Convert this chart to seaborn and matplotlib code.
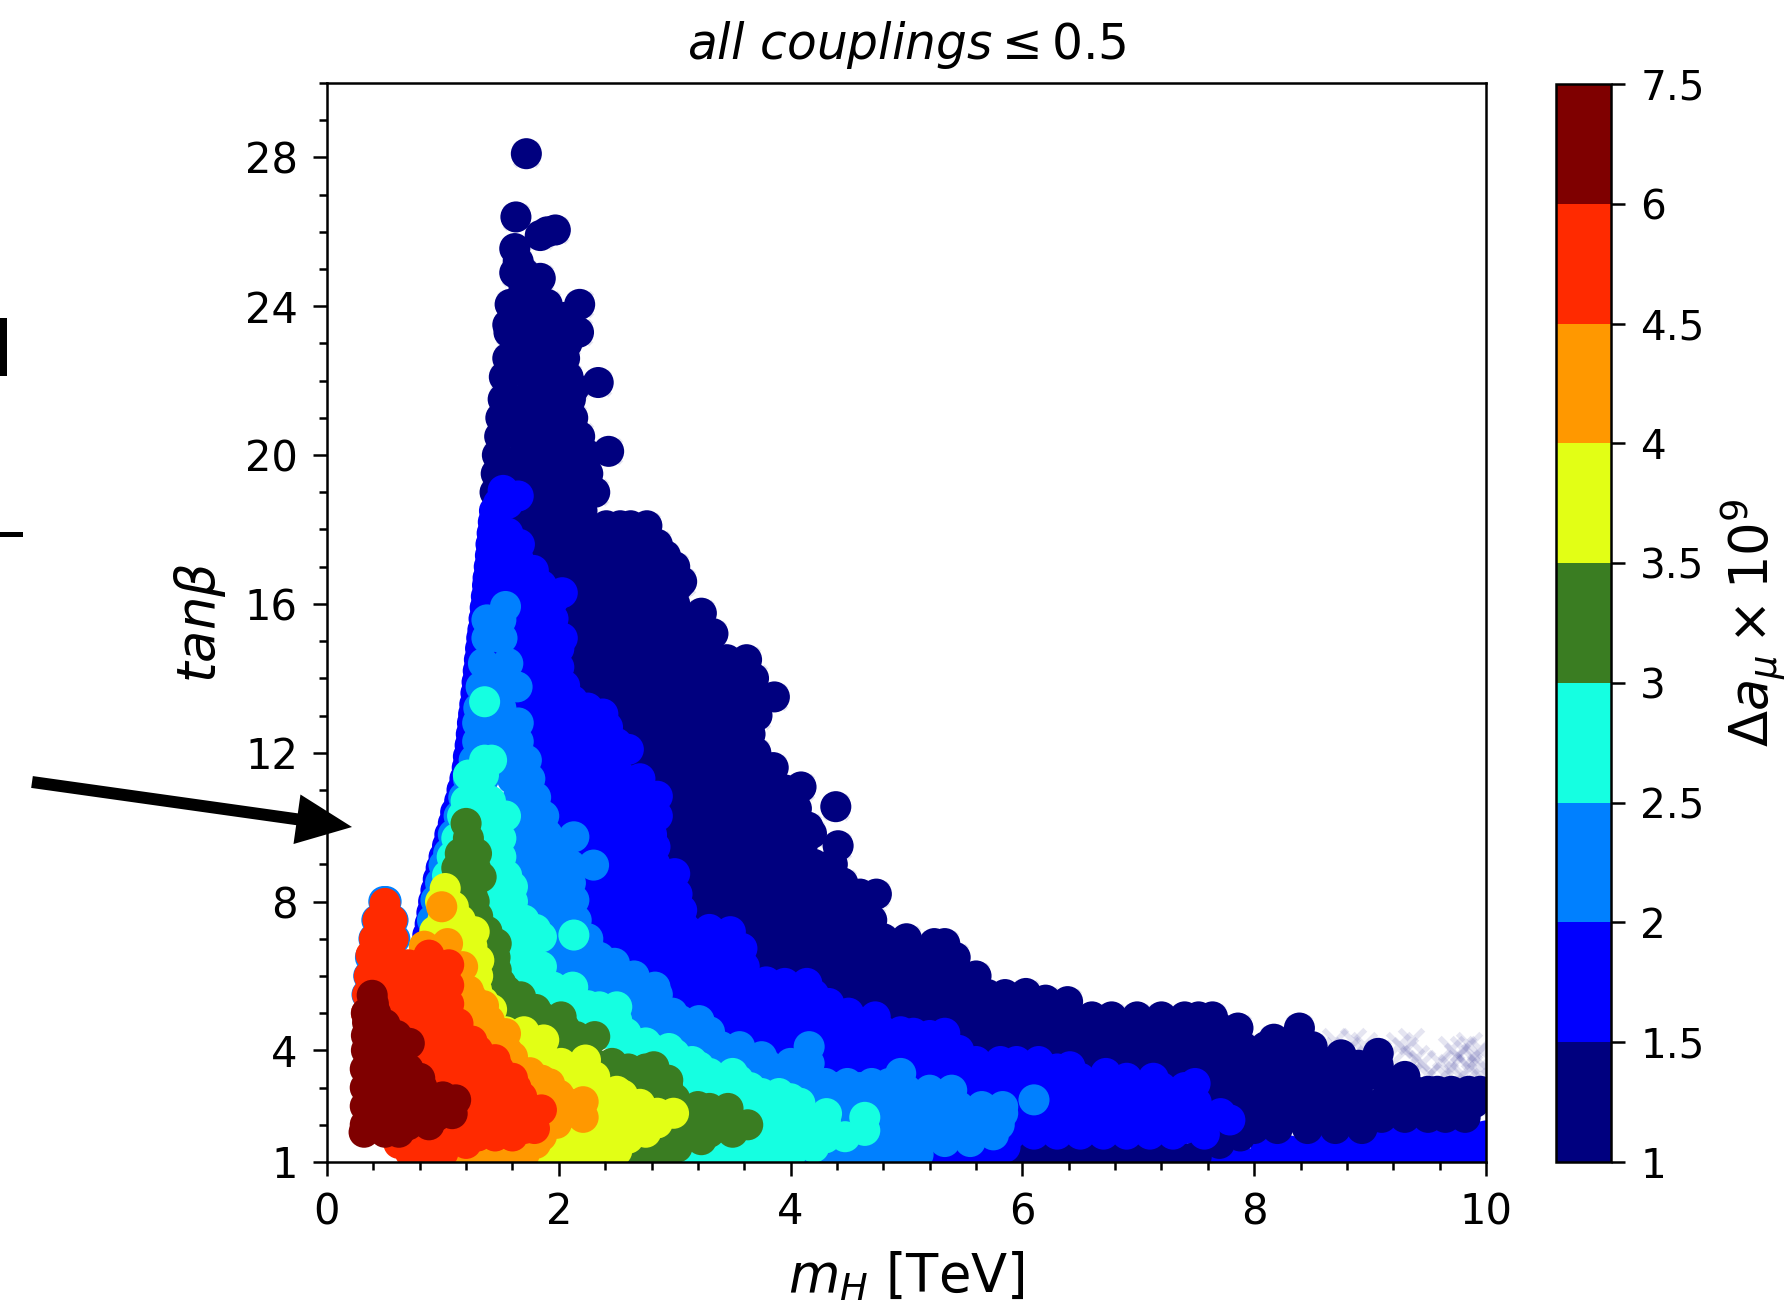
import matplotlib
matplotlib.use("Agg")
import matplotlib.pyplot as plt
from matplotlib.colors import ListedColormap, BoundaryNorm
from matplotlib.cm import ScalarMappable
from matplotlib.ticker import MultipleLocator
from matplotlib.patches import Rectangle
import pandas as pd
import seaborn as sns

# colour bands
levels = [1, 1.5, 2, 2.5, 3, 3.5, 4, 4.5, 6, 7.5]
level_labels = ["1", "1.5", "2", "2.5", "3", "3.5", "4", "4.5", "6", "7.5"]
band_colors = ["#00007f", "#0000ff", "#0080ff", "#15ffe1", "#3a7d22", "#e2ff15", "#ff9800", "#ff2a00", "#7f0000"]

x_ticks = [0, 2, 4, 6, 8, 10]
y_ticks = [1, 4, 8, 12, 16, 20, 24, 28]

# (tan beta, [m_H, ...]) rows per band
blue_low = [(1.0, [7.7, 7.9, 8.1, 8.3, 8.5, 8.7, 8.9, 9.1, 9.3, 9.5, 9.7, 9.9, 10.0]),
            (1.3, [8.1, 8.3, 8.5, 8.7, 8.9, 9.1, 9.3, 9.5, 9.7, 9.9]),
            (1.55, [8.6, 8.8, 9.0, 9.2, 9.4, 9.6, 9.8]),
            (1.7, [9.5, 9.7, 9.9, 10.0])]

navy = [(28.1, [1.72]), (26.4, [1.63]), (26.05, [1.97]), (26.0, [1.9]), (25.9, [1.84]), (25.55, [1.62]), (25.2, [1.65]),
        (24.9, [1.62, 1.7]), (24.75, [1.84]), (24.5, [1.7, 1.8]), (24.05, [1.58, 1.75, 1.9, 2.18]),
        (23.7, [1.67, 1.85, 2.05]), (23.5, [1.56]), (23.3, [1.57, 1.77, 1.97, 2.17]), (23.0, [2.07]),
        (22.85, [1.65, 1.82]), (22.6, [1.56, 1.72, 1.92, 2.05]), (22.1, [1.53, 1.75, 1.95, 2.08]),
        (21.95, [2.34]), (21.8, [2.13]), (21.5, [1.52, 1.7, 1.9, 2.1]),
        (21, [1.5, 1.72, 1.92, 2.12]), (20.5, [1.49, 1.68, 1.88, 2.1, 2.18]), (20.1, [2.43]),
        (20, [1.47, 1.7, 1.9, 2.1, 2.25]), (19.5, [1.46, 1.65, 1.85, 2.05, 2.25]),
        (19, [1.45, 1.75, 1.95, 2.15, 2.31]), (18.5, [1.7, 1.85, 2.05, 2.2]),
        (18.1, [1.8, 2.0, 2.2, 2.41, 2.53, 2.62, 2.76]), (17.6, [1.8, 1.9, 2.1, 2.3, 2.5, 2.7, 2.85]),
        (17.3, [2.92]), (17, [1.9, 2.0, 2.2, 2.4, 2.6, 2.8, 3.0]), (16.6, [3.06]),
        (16.5, [2.1, 2.3, 2.5, 2.7, 2.9, 3.03]), (16, [2.1, 2.2, 2.4, 2.6, 2.8, 3.0]), (15.75, [3.23]),
        (15.5, [2.2, 2.3, 2.5, 2.7, 2.9, 3.1, 3.2]), (15.2, [3.33]), (15, [2.2, 2.4, 2.6, 2.8, 3.0, 3.2]),
        (14.5, [2.1, 2.3, 2.5, 2.7, 2.9, 3.1, 3.3, 3.45, 3.62]),
        (14, [2.1, 2.2, 2.4, 2.6, 2.8, 3.0, 3.2, 3.4, 3.55, 3.68]),
        (13.5, [2.3, 2.5, 2.7, 2.9, 3.1, 3.3, 3.5, 3.65, 3.86]),
        (13, [2.5, 2.6, 2.8, 3.0, 3.2, 3.4, 3.6, 3.71]),
        (12.5, [2.55, 2.7, 2.9, 3.1, 3.3, 3.5, 3.65]), (12, [2.7, 2.8, 3.0, 3.2, 3.4, 3.6, 3.7]),
        (11.6, [3.85]), (11.5, [2.75, 2.9, 3.1, 3.3, 3.5, 3.7]), (11.08, [4.09]),
        (11, [2.9, 3.0, 3.2, 3.4, 3.6, 3.8, 3.95]), (10.55, [4.39]),
        (10.5, [2.95, 3.1, 3.3, 3.5, 3.7, 3.9, 4.05]), (10, [3.0, 3.2, 3.4, 3.6, 3.8, 4.0, 4.15]),
        (9.83, [4.18]), (9.5, [3.0, 3.1, 3.3, 3.5, 3.7, 3.9, 4.1, 4.41]),
        (9, [3.0, 3.2, 3.4, 3.6, 3.8, 4.0, 4.2, 4.36]), (8.5, [3.1, 3.3, 3.5, 3.7, 3.9, 4.1, 4.3, 4.45]),
        (8.2, [4.6, 4.74]), (8, [3.2, 3.4, 3.6, 3.8, 4.0, 4.2, 4.4, 4.55]),
        (7.5, [3.3, 3.5, 3.7, 3.9, 4.1, 4.3, 4.5, 4.7]), (7, [3.6, 3.8, 4.0, 4.2, 4.4, 4.6, 4.8, 5.0]),
        (6.87, [5.24, 5.33]), (6.5, [3.7, 3.9, 4.1, 4.3, 4.5, 4.7, 4.9, 5.1, 5.3, 5.42]),
        (6, [3.8, 4.0, 4.2, 4.4, 4.6, 4.8, 5.0, 5.2, 5.4, 5.6]),
        (5.53, [6.03]), (5.35, [6.2]), (5.31, [6.39]),
        (5.5, [4.1, 4.3, 4.5, 4.7, 4.9, 5.1, 5.3, 5.5, 5.7, 5.85]),
        (4.9, [4.6, 4.8, 5.0, 5.2, 5.4, 5.6, 5.8, 6.0, 6.2, 6.4, 6.6, 6.77, 6.99, 7.2, 7.4, 7.52, 7.64]),
        (4.6, [5.1, 5.3, 5.5, 5.7, 5.9, 6.1, 6.3, 6.5, 6.7, 6.9, 7.1, 7.3, 7.5, 7.7, 7.86, 8.39]),
        (4.3, [8.17]),
        (4.1, [5.5, 5.7, 5.9, 6.1, 6.3, 6.5, 6.7, 6.9, 7.1, 7.3, 7.5, 7.7, 7.9, 8.1, 8.3, 8.5]),
        (3.88, [8.75]), (3.92, [9.07]), (3.74, [8.56]),
        (3.6, [6.5, 6.7, 6.9, 7.1, 7.3, 7.5, 7.7, 7.9, 8.1, 8.3, 8.5, 8.7, 8.9, 9.07]),
        (3.3, [9.1, 9.3]),
        (3.1, [7.3, 7.5, 7.7, 7.9, 8.1, 8.3, 8.5, 8.7, 8.9, 9.16, 9.3]),
        (2.9, [9.2, 9.38, 9.5, 9.58, 9.7, 9.85, 9.95]),
        (2.6, [7.7, 7.9, 8.1, 8.3, 8.5, 8.7, 8.9, 9.1, 9.3, 9.5, 9.7, 9.9]),
        (2.2, [7.9, 8.1, 8.3, 8.5, 8.7, 8.9, 9.1, 9.3, 9.5, 9.65, 9.82]),
        (1.9, [8.0, 8.2, 8.46, 8.7, 8.93]), (1.7, [7.88]), (1.5, [7.7]),
        (1.15, [5.95, 6.15, 6.35, 6.55, 6.75, 6.95, 7.15, 7.35, 7.5])]

blue = [(19.05, [1.52]), (18.9, [1.65]), (18.7, [1.48, 1.56]), (18.5, [1.445]), (18.2, [1.435]),
        (17.9, [1.425, 1.5, 1.56]), (17.6, [1.415, 1.5, 1.66]), (17.3, [1.41]), (17.2, [1.5, 1.65]),
        (17, [1.40]), (16.9, [1.78, 1.6, 1.46]), (16.7, [1.39]), (16.5, [1.385, 1.5, 1.7, 1.85]),
        (16.3, [2.03]), (16.2, [1.375]), (16.1, [1.95, 1.8, 1.5]), (15.9, [1.365]), (15.6, [1.355, 1.6, 1.8, 1.95]),
        (15.3, [1.345]), (15.08, [1.335, 2.03, 1.85, 1.7]), (14.8, [1.325]), (14.6, [1.7, 1.9]), (14.5, [1.315]),
        (14.2, [1.305]), (14.06, [1.9, 1.75]), (13.9, [1.295]), (13.6, [1.285, 1.75, 1.95]), (13.4, [2.12]),
        (13.3, [1.275]), (13.04, [1.265, 2.38, 2.25, 1.8, 2.0]), (12.8, [1.255, 2.1]), (12.69, [2.42]),
        (12.5, [1.245, 1.75, 1.95, 2.15, 2.3]), (12.2, [1.235]), (12.09, [2.6, 2.45]), (12, [1.8, 2.0, 2.2, 2.35]),
        (11.9, [1.22]), (11.6, [1.21]), (11.5, [1.9, 2.1, 2.3, 2.5]), (11.3, [1.19]), (11.13, [2.53]),
        (11, [1.165, 2.0, 2.2, 2.4, 2.6]), (10.83, [2.67, 2.85]), (10.7, [1.145]), (10.5, [2.0, 2.2, 2.4, 2.55]),
        (10.4, [1.11]), (10.1, [1.09, 2.56, 2.4, 2.2, 2.0]), (9.8, [1.06]), (9.5, [1.04]),
        (9.47, [2.83, 2.65, 2.45, 2.3]), (9.2, [1.01]), (9, [2.83, 2.65, 2.45, 2.25]), (8.9, [0.985]),
        (8.6, [0.96]), (8.5, [2.35, 2.55, 2.75]), (8.3, [0.94]), (8.2, [3.02, 2.85]), (8, [0.92, 2.4, 2.6, 2.8]),
        (7.77, [3.06, 2.9]), (7.7, [0.905]), (7.5, [2.45, 2.65, 2.85, 3.05]), (7.4, [0.89]), (7.19, [3.48]),
        (7.1, [0.87]), (7, [2.4, 2.6, 2.8, 3.0, 3.2]), (6.74, [3.58, 3.4]), (6.5, [2.65, 2.85, 3.05, 3.25, 3.4]),
        (6, [2.8, 3.0, 3.2, 3.4, 3.6]), (5.84, [3.79]), (5.8, [4.14, 3.95]),
        (5.5, [3.0, 3.2, 3.4, 3.6, 3.8, 4.0, 4.2]), (5.26, [4.33]), (5, [3.1, 3.3, 3.5, 3.7, 3.9, 4.1, 4.3, 4.5]),
        (4.9, [4.73]), (4.46, [5.06, 5.33]), (4.5, [3.6, 3.8, 4.0, 4.2, 4.4, 4.6, 4.8, 4.95]), (4.4, [5.2]),
        (4, [3.7, 3.9, 4.1, 4.3, 4.5, 4.7, 4.9, 5.1, 5.3, 5.45]), (3.7, [5.6, 5.81, 5.95, 6.14]), (3.56, [6.41]),
        (3.5, [4.3, 4.5, 4.7, 4.9, 5.1, 5.3, 5.5, 5.7, 5.9, 6.1, 6.3]), (3.38, [6.72]), (3.25, [7.13]), (3.11, [7.49]),
        (3, [5.0, 5.2, 5.4, 5.6, 5.8, 6.0, 6.2, 6.4, 6.6, 6.8, 7.0, 7.2, 7.4]),
        (2.6, [5.7, 5.9, 6.1, 6.3, 6.5, 6.7, 6.9, 7.1, 7.3, 7.5]), (2.3, [7.5, 7.71]), (2.13, [7.79]),
        (2.1, [5.9, 6.1, 6.3, 6.5, 6.7, 6.9, 7.1, 7.3, 7.5]), (1.75, [5.9, 6.1, 6.3, 6.5, 6.7, 6.9, 7.1, 7.3, 7.57]),
        (1.4, [5.5, 5.7, 5.85]), (1.05, [5.0, 5.2, 5.4, 5.6, 5.75])]

blue_more = [(16.6, [1.5, 1.65]), (16.2, [1.6, 1.75, 1.9]), (15.8, [1.45, 1.65, 1.85]), (15.3, [1.55, 1.75, 1.95]),
             (14.8, [1.5, 1.7, 1.85, 2.0]), (14.3, [1.5, 1.65, 1.85, 2.0]), (13.8, [1.55, 1.7, 1.9, 2.05]),
             (13.2, [1.7, 1.9, 2.1, 2.25]), (12.8, [1.8, 2.0, 2.25]), (12.25, [1.75, 1.95, 2.15, 2.35, 2.5]),
             (11.75, [1.85, 2.05, 2.25, 2.45]), (11.3, [2.15, 2.35, 2.55, 2.7]), (10.75, [2.1, 2.3, 2.5]),
             (10.3, [2.1, 2.3, 2.5, 2.7, 2.85]), (9.8, [2.0, 2.2, 2.4, 2.6, 2.8]), (9.25, [2.15, 2.35, 2.55, 2.75]),
             (8.75, [2.2, 2.4, 2.6, 2.8, 3.0]), (8.25, [2.25, 2.45, 2.65]), (7.75, [2.3, 2.5, 2.7]),
             (7.25, [2.3, 2.5, 2.7, 2.9, 3.1, 3.3]), (6.75, [2.5, 2.7, 2.9, 3.1, 3.3]),
             (6.25, [2.6, 2.8, 3.0, 3.2, 3.4, 3.6]), (5.75, [2.9, 3.1, 3.3, 3.5, 3.7]),
             (5.25, [3.0, 3.2, 3.4, 3.6, 3.8, 4.0, 4.2]), (4.75, [3.4, 3.6, 3.8, 4.0, 4.2, 4.4, 4.6]),
             (4.25, [3.6, 3.8, 4.0, 4.2, 4.4, 4.6, 4.8, 5.0, 5.2]), (3.75, [4.1, 4.3, 4.5, 4.7, 4.9, 5.1, 5.3]),
             (3.25, [4.9, 5.1, 5.3, 5.5, 5.7, 5.9, 6.1, 6.3, 6.5, 6.7, 6.9]),
             (2.8, [5.6, 5.8, 6.0, 6.2, 6.4, 6.6, 6.8, 7.0, 7.2, 7.35]),
             (2.35, [5.8, 6.0, 6.2, 6.4, 6.6, 6.8, 7.0, 7.2, 7.35]),
             (1.9, [6.0, 6.2, 6.4, 6.6, 6.8, 7.0, 7.2, 7.4])]

dodger = [(15.93, [1.54]), (15.57, [1.38, 1.5]), (15.08, [1.51, 1.38]), (14.4, [1.56, 1.35]),
          (13.77, [1.64, 1.33, 1.48]), (13.2, [1.31, 1.5]), (12.8, [1.65, 1.5, 1.3]), (12.3, [1.65, 1.5, 1.3]),
          (11.8, [1.72, 1.55, 1.4, 1.27]), (11.3, [1.75, 1.6, 1.35, 1.22]), (10.8, [1.8, 1.65, 1.18]),
          (10.3, [1.87, 1.7, 1.55, 1.14]), (9.8, [1.9, 1.75, 1.6, 1.09]), (9.74, [2.13]), (9.3, [2.0, 1.85, 1.7, 1.05]),
          (8.98, [2.3, 2.1, 1.9, 1.01]), (8.5, [2.1, 1.9, 1.75, 0.98]), (8.04, [2.13, 1.95, 1.75, 0.94]),
          (7.5, [2.15, 1.95, 1.8, 0.91]), (7, [2.25, 2.05, 1.9]), (6.87, [2.25]), (6.5, [2.35, 2.15, 1.95]),
          (6.34, [2.48]), (6, [2.65, 2.45, 2.25, 2.05]), (5.7, [2.83, 2.65]), (5.5, [2.85, 2.65, 2.45, 2.25]),
          (5, [2.98, 2.8, 2.6, 2.4]), (4.8, [3.21, 3.05]), (4.5, [3.3, 3.1, 2.9, 2.7]),
          (4.1, [3.56, 3.4, 3.2, 4.16]), (3.83, [3.75]), (3.65, [4.16, 4.0]), (3.6, [3.6, 3.4, 3.2, 3.8]),
          (3.38, [4.95]), (3.3, [3.75, 3.95]), (3.11, [4.49, 4.3, 4.15, 4.7, 4.85]), (2.93, [5.39, 5.2, 5.0]),
          (2.8, [3.6, 3.8, 4.0, 4.2, 4.4, 4.6, 4.8]), (2.67, [6.1]), (2.49, [5.83, 5.65, 5.45, 5.25, 5.05]),
          (2.31, [5.83, 4.4]), (2, [4.6, 4.8, 5.0, 5.2, 5.4, 5.6, 5.8]),
          (1.55, [4.3, 4.5, 4.7, 4.9, 5.1, 5.33, 5.55]), (1.73, [5.75]), (1.2, [3.9, 4.1, 4.3, 4.5, 4.7, 4.9, 5.1]),
          (1, [3.8, 4.0, 4.2, 4.4, 4.6, 4.8, 5.0]),
          (8.0, [0.49, 0.51]), (7.5, [0.43, 0.57]), (7, [0.405, 0.585]), (6.5, [0.375]), (6, [0.36]), (5.5, [0.345])]

dodger_more = [(13.2, [1.4]), (12.55, [1.4, 1.57]), (12.05, [1.45, 1.6]), (10.5, [1.6, 1.75]), (10, [1.65, 1.8]),
               (9.5, [1.75, 1.9]), (9, [1.75, 1.95]), (8.7, [1.85, 2.0]), (8.2, [1.85, 2.05]), (7.7, [1.9, 2.05]),
               (7.2, [2.0, 2.15]), (6.7, [2.05, 2.25]), (6.2, [2.15, 2.35]), (5.3, [2.55, 2.75]), (4.7, [2.75, 2.95]),
               (4.3, [3.0, 3.2]), (3.9, [3.3, 3.5]), (3.4, [3.45, 3.65]), (3.0, [3.8, 4.0, 4.2, 4.4, 4.6]),
               (2.6, [4.5, 4.7, 4.9]), (2.2, [4.6, 4.8, 5.0, 5.2, 5.4, 5.6]), (1.75, [4.5, 4.7, 4.9, 5.1, 5.3, 5.5])]

cyan = [(13.37, [1.36]), (11.8, [1.36, 1.42]), (11.4, [1.22, 1.35]), (10.7, [1.41, 1.3, 1.2]),
        (10.3, [1.54, 1.4, 1.25, 1.17]), (9.7, [1.5, 1.35, 1.2, 1.12]), (9.2, [1.5, 1.35, 1.2, 1.08]),
        (8.7, [1.55, 1.4, 1.25, 1.04]), (8.4, [1.6]), (8, [1.6, 1.45, 1.3]), (7.5, [1.7, 1.55, 1.4]),
        (7.05, [1.85, 1.7, 1.55]), (7.1, [2.13]), (6.5, [1.72, 1.6, 1.5]), (6, [1.8, 1.65, 1.5]),
        (5.7, [2.12, 1.95, 1.8]), (5.4, [2.05, 1.85, 1.7]), (5.17, [2.5, 2.35]), (5, [2.2, 2.0, 1.9]),
        (4.8, [2.5, 2.4, 2.25]), (4.46, [2.58, 2.4]), (4.2, [2.55, 2.65, 2.75]), (3.9, [2.65, 2.85, 3.0]),
        (3.56, [3.21, 3.0, 2.9]), (3.38, [3.5, 3.3, 3.1]), (3, [3.65, 3.5, 3.3, 3.15]), (2.84, [3.9, 3.75]),
        (2.58, [4.08, 3.9, 3.7, 3.5]), (2.3, [4.31, 4.1, 3.9, 3.7]), (2.2, [4.64]), (1.9, [4.25, 4.05, 3.85, 3.65]),
        (1.85, [4.64]), (1.68, [4.47]), (1.4, [4.2, 4.0, 3.8, 3.6, 3.4]),
        (1.05, [3.83, 3.6, 3.4, 3.2, 3.0, 2.85])]

cyan_more = [(8.2, [1.4, 1.55]), (7.75, [1.45, 1.6]), (7.25, [1.5, 1.65, 1.8]), (6.75, [1.6, 1.75]),
             (6.25, [1.55, 1.7, 1.85]), (5.55, [1.9, 2.05]), (5.2, [2.1, 2.25, 1.9]), (4.6, [2.3, 2.45]),
             (4.05, [2.6, 2.8, 2.95]), (3.7, [2.8, 3.0, 3.15]), (3.2, [3.2, 3.4, 3.55]), (2.7, [3.6, 3.8, 4.0]),
             (2.1, [3.7, 3.9, 4.1, 4.3]), (1.65, [3.5, 3.7, 3.9, 4.1, 4.3]), (1.2, [3.2, 3.4, 3.6, 3.8, 4.0])]

green = [(10.1, [1.2]), (9.7, [1.22]), (9.29, [1.29, 1.15]), (8.9, [1.28, 1.12]), (8.66, [1.33, 1.2]),
         (8.2, [1.25]), (8.0, [1.27]), (7.6, [1.3]), (7.2, [1.38]), (6.87, [1.46]), (6.5, [1.45]),
         (6.16, [1.46, 1.4]), (5.8, [1.5, 1.4]), (5.44, [1.67, 1.5]), (5.1, [1.8, 1.65, 1.5]), (4.9, [2.02, 1.85]),
         (4.6, [2.05, 1.9]), (4.37, [2.31, 2.15]), (4.3, [2.13, 2.0]), (3.9, [2.1]), (3.65, [2.46, 2.3]),
         (3.56, [2.82]), (3.2, [2.82, 2.94, 2.5, 2.65]), (3, [2.94, 2.75, 2.55, 2.4]), (2.49, [3.2, 3.05]),
         (2.44, [3.46, 3.3]), (2, [3.63, 3.45, 3.25, 3.05, 2.85]), (1.6, [3.23, 3.05, 2.85, 2.7]),
         (1.4, [3.02, 2.8, 2.6]), (1.2, [2.71, 2.5, 2.3]), (1, [2.2, 2.4, 2.6, 2.85]),
         (5.6, [1.55]), (3.5, [2.6, 2.75]), (2.7, [2.7, 2.9, 3.0]), (2.25, [3.0, 3.2, 3.4]), (1.8, [2.9, 3.1, 3.3, 3.5])]

yellow = [(8.35, [1.02]), (8.0, [0.98]), (7.86, [1.09]), (7.5, [1.0, 1.15]), (7.19, [1.27, 1.12]), (6.8, [1.25]),
          (6.42, [1.31, 1.2]), (6, [1.3]), (5.9, [1.2]), (5.62, [1.29]), (5.3, [1.35]), (5.1, [1.42]),
          (4.5, [1.54, 1.7]), (4.28, [1.87]), (4, [1.85]), (3.9, [1.7]), (3.74, [2.23]), (3.65, [2.02, 1.85]),
          (3.4, [1.95]), (3.29, [2.31, 2.1]), (3.1, [2.1, 2.25]), (2.9, [2.3, 2.5]), (2.8, [2.2, 2.4, 2.55]),
          (2.55, [2.3, 2.5, 2.7]), (2.31, [2.99, 2.85, 2.7, 2.5, 2.3]), (2.05, [2.3, 2.5, 2.7, 2.85]),
          (1.8, [2.75, 2.6, 2.4, 2.2]), (1.64, [2.6]), (1.55, [2.05, 2.25, 2.45]),
          (1.3, [2.5, 2.3, 2.1, 1.9, 1.7]), (1.15, [1.8, 2.0, 2.2]), (1, [1.5, 1.7, 1.9, 2.1]),
          (7.2, [0.93]), (6.9, [0.91])]

orange = [(7.86, [0.99]), (6.87, [1.04]), (6.8, [0.84]), (6.6, [0.95]), (6.5, [0.86]), (6.25, [1.17]), (5.9, [1.1]),
          (5.6, [1.22]), (5.4, [1.25]), (5.2, [1.35]), (5.0, [1.25]), (4.8, [1.4]), (4.6, [1.35]), (4.45, [1.54]),
          (4.2, [1.45]), (4, [1.55]), (3.83, [1.6]), (3.5, [1.55]), (3.4, [1.75]), (3.2, [1.85]), (3.1, [1.92]),
          (3.0, [1.75]), (2.8, [2.0]), (2.62, [2.21, 2.05, 1.9]), (2.35, [1.9]), (2.3, [2.05]), (2.2, [2.21]),
          (2.04, [1.98]), (1.9, [1.85]), (1.7, [1.85]), (1.5, [1.8, 1.63]), (1.35, [1.55]), (1.2, [1.5, 1.7, 1.3]),
          (1.0, [1.2, 1.35, 1.5])]

red = [(7.95, [0.5]), (7.5, [0.44, 0.56]), (7, [0.41, 0.57]), (6.75, [0.45, 0.52]),
       (6.56, [0.38, 0.55, 0.88]), (6.3, [0.45, 0.7, 0.8, 0.9, 1.05]),
       (6, [0.365, 0.56, 0.76, 0.98]), (5.75, [0.45, 0.65, 0.85, 1.05]), (5.5, [0.35, 0.56, 0.76, 0.98]),
       (5.25, [0.45, 0.65, 0.85, 1.05]), (5, [0.34, 0.54, 0.74, 0.98]), (4.75, [0.6, 0.8, 1.0]), (4.72, [1.13]),
       (4.5, [0.7, 0.9, 1.1]), (4.25, [0.7, 0.9, 1.1, 1.25]), (4, [0.8, 1.0, 1.2, 1.3]),
       (3.75, [0.9, 1.1, 1.3, 1.45]), (3.5, [0.8, 1.0, 1.2, 1.4, 1.48]), (3.25, [0.9, 1.1, 1.3, 1.5, 1.6]),
       (3, [0.9, 1.1, 1.3, 1.5, 1.63]), (2.75, [1.0, 1.2, 1.4, 1.6, 1.68]), (2.4, [1.0, 1.2, 1.4, 1.6, 1.85]),
       (2.15, [1.0, 1.2, 1.4, 1.6, 1.75]), (1.9, [0.9, 1.1, 1.3, 1.5, 1.7, 1.79]), (1.7, [0.7, 0.9, 1.1, 1.3, 1.45, 1.6]),
       (1.5, [0.62, 0.8, 1.0, 1.2]), (1.25, [0.72, 0.85, 1.0]), (1, [0.75, 0.95])]

darkred = [(5.48, [0.39]), (5.25, [0.4]), (5.0, [0.34, 0.42]), (4.75, [0.35, 0.42]), (4.7, [0.5]), (4.5, [0.45]),
           (4.4, [0.6, 0.34]), (4.2, [0.5, 0.6]), (4.19, [0.71]), (4, [0.34, 0.5]), (3.75, [0.42, 0.6]),
           (3.5, [0.33, 0.5, 0.7]), (3.25, [0.42, 0.6, 0.8]), (3, [0.33, 0.5, 0.72, 0.82]),
           (2.75, [0.42, 0.6, 0.8, 1.0]), (2.67, [1.11]), (2.5, [0.33, 0.5, 0.7, 0.9]), (2.3, [1.08]),
           (2.25, [0.42, 0.6, 0.8, 0.95]), (2, [0.33, 0.5, 0.7, 0.88]), (1.8, [0.32, 0.5, 0.62])]

# faint crosses visible only beyond the tail of the navy points
faint_tail = [(4.25, [8.7, 8.85, 9.35]), (4.15, [8.95, 9.25]), (4.0, [8.55, 8.8, 9.3]), (3.8, [9.4]), (3.65, [9.45, 9.6]),
              (3.55, [9.7, 9.85, 9.95]), (3.85, [9.75, 9.9]), (4.05, [9.8, 9.95, 9.7]), (4.15, [9.85]), (3.35, [9.5, 9.65, 9.8, 9.95])]


def table(rows, band):
    return pd.DataFrame([{"m": m, "t": t, "band": band} for t, ms in rows for m in ms])


names = [f"{a}-{b}" for a, b in zip(level_labels[:-1], level_labels[1:])]
points = pd.concat([table(blue_low, names[1]), table(navy, names[0]), table(blue, names[1]), table(blue_more, names[1]),
                    table(dodger, names[2]), table(dodger_more, names[2]), table(cyan, names[3]),
                    table(cyan_more, names[3]), table(green, names[4]), table(yellow, names[5]),
                    table(orange, names[6]), table(red, names[7]), table(darkred, names[8])], ignore_index=True)
faint = pd.concat([table(navy, names[0]), table(faint_tail, names[0])], ignore_index=True)

sns.set_theme(style="ticks", rc={"axes.linewidth": 0.9, "font.family": "DejaVu Sans", "mathtext.fontset": "dejavusans",
                                 "axes.edgecolor": "black", "xtick.color": "black", "ytick.color": "black",
                                 "text.color": "black", "axes.labelcolor": "black"})

W, H = 1788, 1303
fig = plt.figure(figsize=(W / 200, H / 200), dpi=200)
ax = fig.add_axes([327 / W, (H - 1162) / H, (1486 - 327) / W, (1162 - 83) / H])

sns.scatterplot(data=faint, x="m", y="t", marker="x", s=72, color="#00007f", alpha=0.1, linewidth=2, ax=ax, legend=False)
sns.scatterplot(data=points, x="m", y="t", hue="band", hue_order=names, palette=dict(zip(names, band_colors)),
                s=125, linewidth=0, alpha=1, ax=ax, legend=False)

ax.set_xlim(0, 10)
ax.set_ylim(1, 30)
ax.set_xticks(x_ticks)
ax.set_yticks(y_ticks)
ax.xaxis.set_minor_locator(MultipleLocator(0.4))
ax.yaxis.set_minor_locator(MultipleLocator(1))
ax.tick_params(which="major", length=5, width=0.9, labelsize=15, pad=5.5)
ax.tick_params(which="minor", length=3, width=0.9)
ax.set_xlabel(r"$m_H$ [TeV]", fontsize=19, labelpad=6)
ax.set_ylabel(r"$tan\beta$", fontsize=19, labelpad=6)
ax.set_title(r"$all\ couplings \leq 0.5$", fontsize=17.5, pad=8.5)

cax = fig.add_axes([1556 / W, (H - 1162) / H, 55 / W, (1162 - 84) / H])
sm = ScalarMappable(norm=BoundaryNorm(levels, len(band_colors)), cmap=ListedColormap(band_colors))
cb = fig.colorbar(sm, cax=cax, spacing="uniform", ticks=levels)
cb.ax.set_yticklabels(level_labels)
cb.ax.minorticks_off()
cb.ax.tick_params(length=5, width=0.9, labelsize=14.6, pad=5.5)
cb.outline.set_linewidth(0.9)
cb.set_label(r"$\Delta a_\mu \times 10^9$", fontsize=19, labelpad=5)

# arrow and the cropped marks at the left border
ax.annotate("", xy=(352, H - 827), xytext=(32, H - 782), xycoords="figure pixels", textcoords="figure pixels",
            annotation_clip=False, arrowprops=dict(width=4.3, headwidth=18, headlength=20, facecolor="black",
                                                   edgecolor="black", linewidth=0, shrink=0))
fig.add_artist(Rectangle((0, (H - 376) / H), 7 / W, 58 / H, transform=fig.transFigure, facecolor="black", edgecolor="none"))
fig.add_artist(Rectangle((0, (H - 537) / H), 23 / W, 5 / H, transform=fig.transFigure, facecolor="black", edgecolor="none"))

fig.savefig("out.png", dpi=200, facecolor="white")
